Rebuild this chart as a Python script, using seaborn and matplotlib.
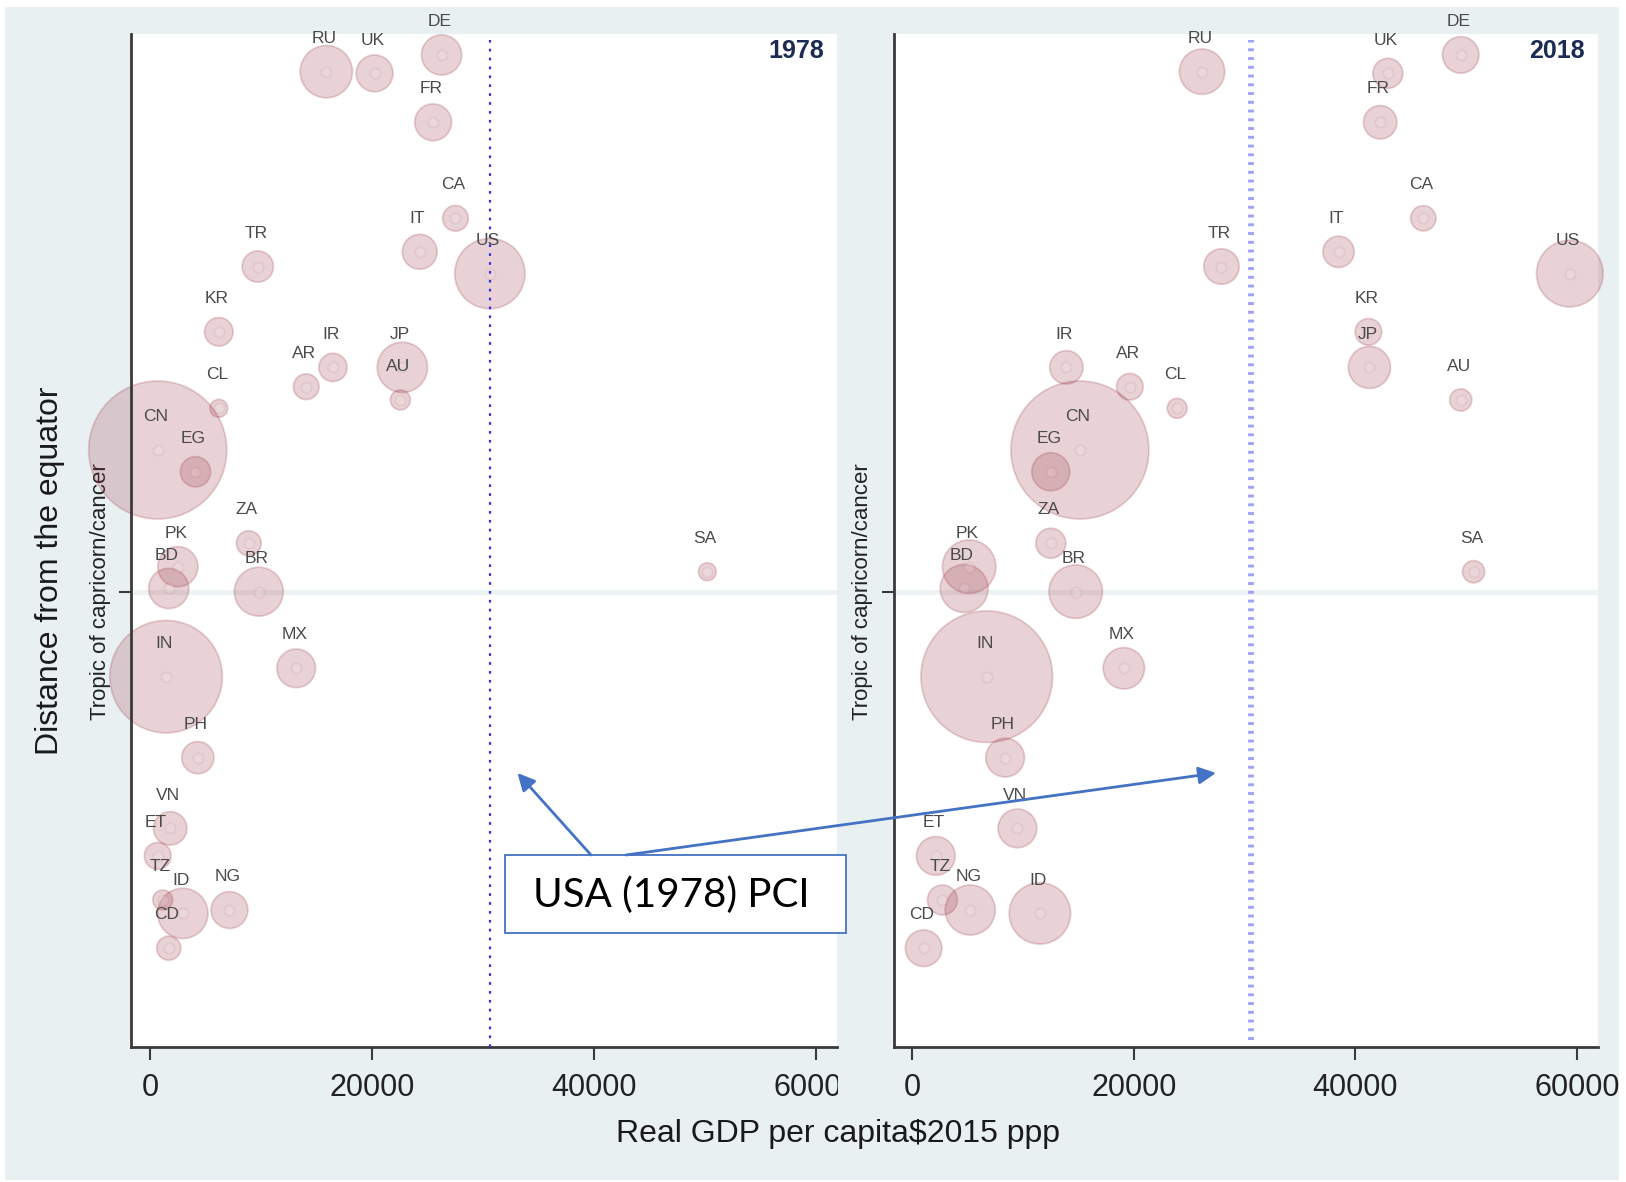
import matplotlib
matplotlib.use("Agg")
import matplotlib.pyplot as plt
from matplotlib.patches import Rectangle, FancyArrowPatch
import pandas as pd
import seaborn as sns

# ---------------- data ----------------
countries = ["RU", "UK", "DE", "FR", "CA", "IT", "US", "TR", "KR", "IR",
             "AR", "JP", "AU", "CL", "CN", "EG", "ZA", "PK", "BD", "BR",
             "SA", "MX", "IN", "PH", "VN", "ET", "TZ", "ID", "NG", "CD"]
latitude = [51.40, 51.31, 52.30, 48.68, 43.52, 41.72, 40.55, 40.93, 37.42, 35.51,
            34.47, 35.51, 33.76, 33.31, 31.07, 29.90, 26.06, 24.80, 23.63, 23.46,
            24.53, 19.34, 18.89, 14.54, 10.74, 9.26, 6.89, 6.17, 6.35, 4.30]
gdp_1978 = [15870, 20220, 26250, 25490, 27500, 24280, 30600, 9700, 6190, 16470,
            14060, 22720, 22540, 6190, 690, 4090, 8890, 2500, 1680, 9790,
            50180, 13160, 1440, 4300, 1810, 690, 1140, 2950, 7150, 1680]
gdp_2018 = [26150, 42920, 49500, 42230, 46120, 38470, 59350, 27900, 41170, 13900,
            19630, 41260, 49500, 23900, 15120, 12490, 12490, 5120, 4670, 14740,
            50660, 19090, 6710, 8370, 9480, 2110, 2710, 11510, 5220, 1010]
pop_1978 = [137, 68, 81, 68, 33, 61, 248, 49, 41, 40,
            33, 127, 20, 16, 956, 46, 31, 81, 81, 120,
            16, 75, 635, 52, 56, 36, 20, 127, 68, 29]
pop_2018 = [151, 66, 98, 82, 47, 72, 326, 92, 52, 82,
            52, 130, 36, 29, 1400, 106, 66, 210, 169, 210,
            36, 126, 1273, 110, 110, 110, 66, 277, 184, 98]
years = ["1978", "2018"]
usa_1978_pci = 30600
tropic_lat = 23.44
x_ticks = [0, 20000, 40000, 60000]
y_tick_label = "Tropic of capricorn/cancer"
x_title = "Real GDP per capita$2015 ppp"
y_title = "Distance from the equator"
note_text = "USA (1978) PCI"

# ---------------- style ----------------
sns.set_theme(style="white")
plt.rcParams["font.family"] = ["Liberation Sans", "DejaVu Sans"]

W, H = 1626, 1182
BG = "#e9f0f2"
BUB = (0.60, 0.20, 0.26)
FILL = BUB + (0.22,)
EDGE = BUB + (0.22,)
DOT_FILL = (1, 1, 1, 0.12)
DOT_EDGE = BUB + (0.08,)
SPINE = "#3a3a3a"
ARROW = "#4472c4"
SMAX = 9873.0


def fx(px):
    return px / W


def fy(py):
    return 1 - py / H


fig = plt.figure(figsize=(W / 100, H / 100), dpi=100, facecolor="white")
fig.add_artist(Rectangle((fx(5), fy(1180)), fx(1619) - fx(5), fy(7) - fy(1180),
                         transform=fig.transFigure, facecolor=BG,
                         edgecolor="none", zorder=-10))

top, bottom = 33.7, 1047.2
ax1 = fig.add_axes([fx(131.2), fy(bottom), fx(836.9) - fx(131.2), fy(top) - fy(bottom)])
ax2 = fig.add_axes([fx(893.6), fy(bottom), fx(1597.5) - fx(893.6), fy(top) - fy(bottom)])

panels = [(ax1, gdp_1978, pop_1978, years[0]), (ax2, gdp_2018, pop_2018, years[1])]

for i, (ax, gdp, pop, yr) in enumerate(panels):
    df = pd.DataFrame({"country": countries, "gdp": gdp, "lat": latitude, "pop": pop})
    ax.set_facecolor("white")
    sns.scatterplot(data=df, x="gdp", y="lat", size="pop", sizes=(0, SMAX),
                    size_norm=(0, max(pop)), color=FILL, edgecolor=EDGE,
                    linewidth=1.3, legend=False, ax=ax, clip_on=False, zorder=2)
    sns.scatterplot(data=df, x="gdp", y="lat", s=55, color=DOT_FILL,
                    edgecolor=DOT_EDGE, linewidth=1.3, legend=False, ax=ax,
                    clip_on=False, zorder=2.1)
    for c, xv, yv in zip(df["country"], df["gdp"], df["lat"]):
        ax.annotate(c, (xv, yv), xytext=(-1.5, 24), textcoords="offset points",
                    ha="center", va="center", fontsize=12.5, color="#4a4a4a",
                    annotation_clip=False, zorder=4)

    if i == 0:
        ax.axvline(usa_1978_pci, ymin=0.0, ymax=0.994, color="#2f2fe6", lw=1.6,
                   linestyle=(0, (1.2, 2.8)), zorder=3)
    else:
        ax.axvline(usa_1978_pci, ymin=0.007, ymax=0.994, color="#a0a0f8", lw=4.2,
                   linestyle=(0, (0.5, 1.0)), zorder=3)

    ax.set_xlim(-1700, 61850)
    ax.set_ylim(-1.02, 53.44)
    ax.set_xticks(x_ticks)
    ax.set_xticklabels([str(t) for t in x_ticks])
    ax.set_yticks([tropic_lat])
    ax.set_yticklabels([y_tick_label], rotation=90, va="center")
    ax.tick_params(axis="x", direction="out", length=9.5, width=1.5, color=SPINE,
                   labelsize=22, pad=9, labelcolor="#222222", bottom=True)
    ax.tick_params(axis="y", direction="out", length=8.5, width=1.5, color=SPINE,
                   labelsize=16, pad=6, labelcolor="#222222", left=True)
    for s in ["top", "right"]:
        ax.spines[s].set_visible(False)
    for s in ["left", "bottom"]:
        ax.spines[s].set_color(SPINE)
        ax.spines[s].set_linewidth(2)
    ax.xaxis.grid(False)
    ax.yaxis.grid(True, color="#edf2f4", lw=3.6)
    ax.set_axisbelow(True)
    ax.set_xlabel("")
    ax.set_ylabel("")
    ax.text(0.982, 0.983, yr, transform=ax.transAxes, ha="right", va="center",
            fontsize=18, fontweight="bold", color="#1c2b55",
            family=["Liberation Sans Narrow", "Liberation Sans", "DejaVu Sans"])

ax1.set_ylabel(y_title, fontsize=23, color="#1a1a1a", va="center")
ax1.yaxis.set_label_coords((50.5 - 131.2) / 705.7, (bottom - 571) / (bottom - top))

fig.supxlabel(x_title, x=fx(838.5), y=fy(1134), va="center", fontsize=23,
              color="#1a1a1a")

# cover the clipped part of the left panel's last tick label (panel boundary)
fig.add_artist(Rectangle((fx(837.5), fy(1120)), fx(891) - fx(837.5), fy(1050) - fy(1120),
                         transform=fig.transFigure, facecolor=BG, edgecolor="none",
                         zorder=1))

# annotation box and arrows
fig.add_artist(Rectangle((fx(505), fy(933)), fx(845.5) - fx(505), fy(855) - fy(933),
                         transform=fig.transFigure, facecolor="white",
                         edgecolor=ARROW, lw=1.3, zorder=5))
fig.text(fx(671), fy(895), note_text, ha="center", va="center", fontsize=29,
         color="black", family=["Lato", "DejaVu Sans"], zorder=6)
for (xa, ya), (xb, yb) in [((591, 855), (517.5, 773)), ((626, 855), (1216, 773))]:
    fig.add_artist(FancyArrowPatch((fx(xa), fy(ya)), (fx(xb), fy(yb)),
                                   transform=fig.transFigure,
                                   arrowstyle="-|>,head_length=0.4,head_width=0.2",
                                   mutation_scale=26, color=ARROW, lw=2,
                                   shrinkA=0, shrinkB=0, zorder=6))

fig.savefig("out.png", dpi=100, facecolor="white")
